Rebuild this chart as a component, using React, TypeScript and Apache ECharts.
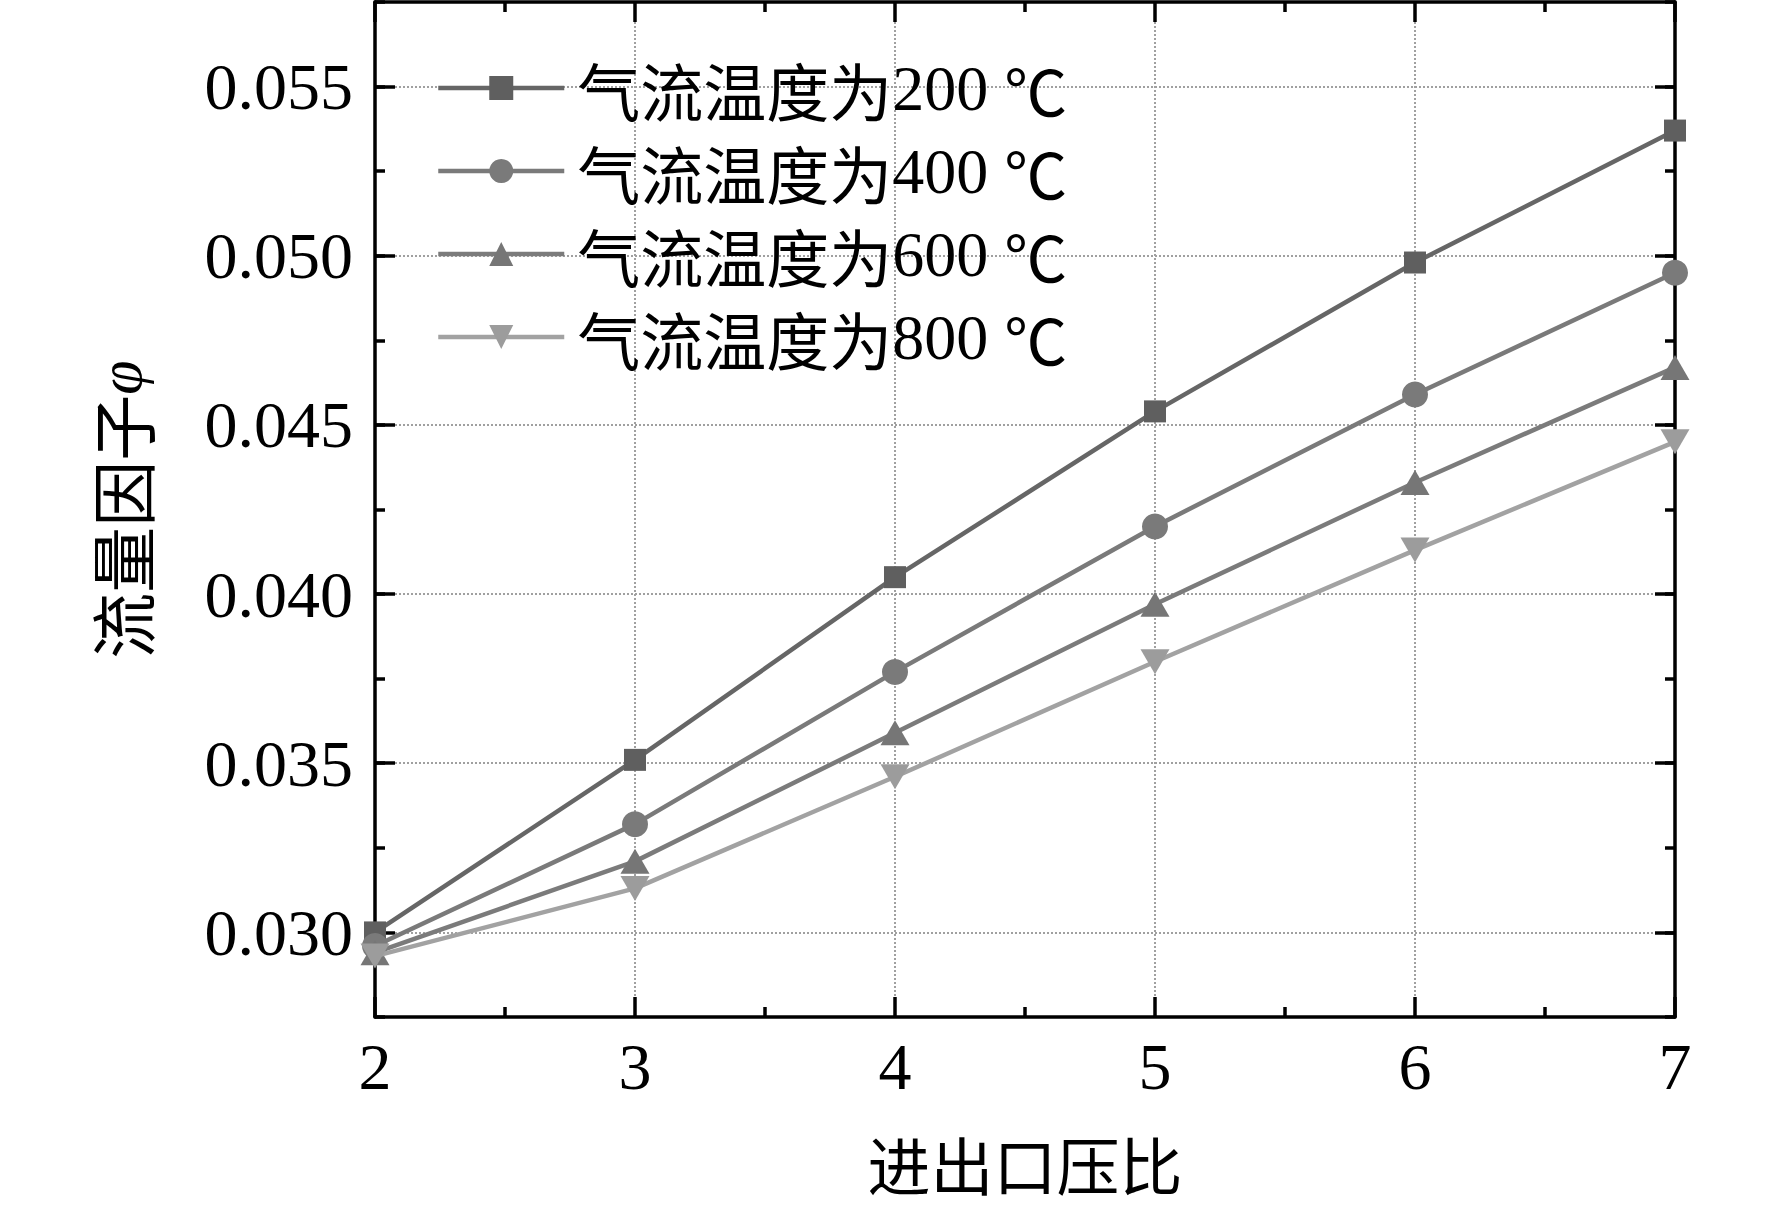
import React, { useEffect, useRef } from "react";
import * as echarts from "echarts";

const pressureRatio = [2, 3, 4, 5, 6, 7];
const seriesNames = ["气流温度为200 ℃", "气流温度为400 ℃", "气流温度为600 ℃", "气流温度为800 ℃"];
const temp200 = [0.0300, 0.0351, 0.0405, 0.0454, 0.0498, 0.0537];
const temp400 = [0.0296, 0.0332, 0.0377, 0.0420, 0.0459, 0.0495];
const temp600 = [0.0294, 0.0321, 0.0359, 0.0397, 0.0433, 0.0467];
const temp800 = [0.0293, 0.0313, 0.0346, 0.0380, 0.0413, 0.0445];
const yMajorTicks = [0.030, 0.035, 0.040, 0.045, 0.050, 0.055];

const SERIF = "'Liberation Serif', 'Times New Roman', serif";
const CJK = "'Noto Sans CJK SC', 'Liberation Serif', serif";

export default function App() {
  const ref = useRef<HTMLDivElement>(null);
  useEffect(() => {
    if (!ref.current) return;
    const chart = echarts.init(ref.current, undefined, { renderer: "svg" });
    const yMin = 0.0275;
    const yMax = 0.0575;
    const isMajor = (v: number) => Math.abs(v / 0.005 - Math.round(v / 0.005)) < 1e-6;
    const axisLine = { show: true, onZero: false, lineStyle: { color: "#000", width: 3.5 } };
    const tickStyle = { color: "#000", width: 3.5 };
    const gridLine = { type: "dotted" as const, width: 2, color: "#a0a0a0" };

    const yBase = (position: "left" | "right", primary: boolean) => ({
      type: "value",
      position,
      min: yMin,
      max: yMax,
      interval: 0.0025,
      axisLine,
      axisTick: { show: true, inside: true, length: 10, lineStyle: tickStyle },
      axisLabel: primary
        ? {
            show: true,
            margin: 22,
            fontSize: 66,
            fontFamily: SERIF,
            color: "#000",
            formatter: (v: number) => (isMajor(v) ? v.toFixed(3) : ""),
          }
        : { show: false },
      splitLine: primary
        ? { show: true, lineStyle: { ...gridLine, color: ["transparent", "#a0a0a0"] } }
        : { show: false },
    });
    const yMajor = (position: "left" | "right") => ({
      type: "value",
      position,
      min: yMin,
      max: yMax,
      interval: 0.0025,
      axisLine: { show: false },
      axisTick: {
        show: true,
        inside: true,
        length: 20,
        lineStyle: tickStyle,
        customValues: yMajorTicks,
      },
      axisLabel: { show: false, customValues: yMajorTicks },
      splitLine: { show: false },
    });

    const xBase = (position: "bottom" | "top", primary: boolean) => ({
      type: "value",
      position,
      min: 2,
      max: 7,
      interval: 1,
      axisLine,
      axisTick: { show: true, inside: true, length: 20, lineStyle: tickStyle },
      minorTick: { show: true, splitNumber: 2, length: 10, lineStyle: tickStyle },
      axisLabel: primary
        ? { show: true, margin: 16, fontSize: 66, fontFamily: SERIF, color: "#000" }
        : { show: false },
      splitLine: primary ? { show: true, lineStyle: gridLine } : { show: false },
      name: primary ? "进出口压比" : "",
      nameLocation: "middle",
      nameGap: 114,
      nameTextStyle: { fontSize: 63, lineHeight: 63, fontFamily: CJK, color: "#000" },
    });

    const makeData = (vals: number[]) => pressureRatio.map((x, i) => [x, vals[i]]);
    const lineColors = ["#666666", "#7a7a7a", "#7b7b7b", "#a2a2a2"];
    const markColors = ["#5f5f5f", "#7a7a7a", "#767676", "#9c9c9c"];
    const symbols = ["rect", "circle", "triangle", "triangle"];
    const sizes: any[] = [22, 26, [29, 25], [29, 25]];
    const rotates = [0, 0, 0, 180];
    const values = [temp200, temp400, temp600, temp800];

    chart.setOption({
      animation: false,
      backgroundColor: "#fff",
      grid: { left: 375, top: 2, width: 1300, height: 1015, containLabel: false },
      legend: {
        show: true,
        orient: "vertical",
        left: 436,
        top: 56,
        padding: 0,
        itemWidth: 126,
        itemHeight: 30,
        itemGap: 19,
        data: seriesNames,
        lineStyle: { width: 4.5 },
        formatter: (name: string) => {
          const m = name.match(/^(\D+)(\d+)\s*(℃)$/);
          if (!m) return name;
          return `{c|${m[1]}}{n|${m[2]} }{c|${m[3]}}`;
        },
        textStyle: {
          fontSize: 62,
          lineHeight: 62,
          color: "#000",
          padding: [0, 0, 0, 8],
          rich: {
            c: { fontSize: 63, lineHeight: 62, fontFamily: CJK, color: "#000" },
            n: { fontSize: 64, lineHeight: 62, fontFamily: SERIF, color: "#000" },
          },
        },
      },
      xAxis: [xBase("bottom", true), xBase("top", false)],
      yAxis: [
        {
          ...yBase("left", true),
          name: "{c|流量因子}{i|φ}",
          nameLocation: "middle",
          nameGap: 222,
          nameTextStyle: {
            fontSize: 66,
            color: "#000",
            rich: {
              c: { fontSize: 66, fontFamily: CJK, color: "#000" },
              i: { fontSize: 62, fontStyle: "italic", fontFamily: SERIF, color: "#000" },
            },
          },
        },
        yBase("right", false),
        yMajor("left"),
        yMajor("right"),
      ],
      series: values.map((vals, i) => ({
        name: seriesNames[i],
        type: "line",
        xAxisIndex: 0,
        yAxisIndex: 0,
        data: makeData(vals),
        symbol: symbols[i],
        symbolSize: sizes[i],
        symbolRotate: rotates[i],
        showAllSymbol: true,
        clip: false,
        lineStyle: { color: lineColors[i], width: 4.5 },
        itemStyle: { color: markColors[i] },
        z: 3 + i,
      })),
    });
    return () => chart.dispose();
  }, []);
  return (
    <div
      ref={ref}
      style={{ position: "fixed", left: 0, top: 0, width: 1772, height: 1212, background: "#fff" }}
    />
  );
}
